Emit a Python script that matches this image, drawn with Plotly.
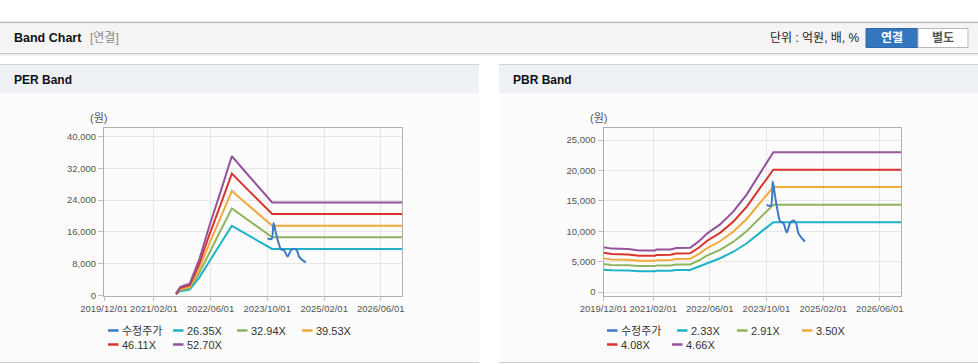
import plotly.graph_objects as go

W, H = 978, 364

# ---------------- data ----------------
tick_dates = ["2019-12-01", "2021-02-01", "2022-06-01", "2023-10-01", "2025-02-01", "2026-06-01"]
tick_labels = ["2019/12/01", "2021/02/01", "2022/06/01", "2023/10/01", "2025/02/01", "2026/06/01"]

price_dates = ["2023-10-04", "2023-11-08", "2023-11-25", "2023-12-15", "2024-01-12", "2024-01-27",
               "2024-02-24", "2024-03-24", "2024-04-22", "2024-05-20", "2024-06-12", "2024-07-02",
               "2024-07-31", "2024-08-28"]
price = [14360, 14200, 18200, 15730, 12720, 11620, 11350, 9800, 11350, 11780, 11350, 9700, 8880, 8320]

per_dates = ["2021-08-10", "2021-09-15", "2021-10-20", "2021-12-05", "2022-02-28", "2022-05-25",
             "2022-08-18", "2022-12-02", "2023-03-01", "2023-06-15", "2023-10-15", "2023-11-13",
             "2026-12-01"]
per_26_35 = [237, 1054, 1265, 1476, 4638, 8827, 12622, 17510, 15994, 14229, 12174, 11699, 11699]
per_32_94 = [296, 1318, 1581, 1845, 5797, 11035, 15778, 21889, 19995, 17788, 15218, 14625, 14625]
per_39_53 = [356, 1581, 1897, 2214, 6957, 13243, 18935, 26268, 23995, 21346, 18263, 17551, 17551]
per_46_11 = [415, 1844, 2213, 2582, 8115, 15447, 22087, 30640, 27989, 24899, 21303, 20473, 20473]
per_52_70 = [474, 2108, 2530, 2951, 9275, 17655, 25243, 35019, 31989, 28458, 24347, 23399, 23399]
per_names = ["수정주가", "26.35X", "32.94X", "39.53X", "46.11X", "52.70X"]

pbr_dates = ["2019-12-01", "2020-02-10", "2020-07-01", "2020-10-01", "2021-02-15", "2021-03-01",
             "2021-07-01", "2021-08-15", "2021-12-15", "2022-03-01", "2022-05-07", "2022-08-29",
             "2022-12-22", "2023-04-16", "2023-08-08", "2023-11-30", "2026-12-01"]
pbr_2_33 = [3693, 3577, 3542, 3425, 3425, 3495, 3507, 3623, 3646, 4194, 4800, 5569, 6641, 8039, 9786, 11501, 11501]
pbr_2_91 = [4612, 4467, 4423, 4278, 4278, 4365, 4380, 4525, 4554, 5238, 5995, 6955, 8294, 10040, 12222, 14364, 14364]
pbr_3_50 = [5548, 5373, 5320, 5145, 5145, 5250, 5268, 5443, 5478, 6300, 7210, 8365, 9975, 12075, 14700, 17276, 17276]
pbr_4_08 = [6467, 6263, 6202, 5998, 5998, 6120, 6140, 6344, 6385, 7344, 8405, 9751, 11628, 14076, 17136, 20139, 20139]
pbr_4_66 = [7386, 7153, 7083, 6850, 6850, 6990, 7013, 7246, 7293, 8388, 9600, 11137, 13281, 16077, 19572, 23002, 23002]
pbr_names = ["수정주가", "2.33X", "2.91X", "3.50X", "4.08X", "4.66X"]

per_ticks = [0, 8000, 16000, 24000, 32000, 40000]
pbr_ticks = [0, 5000, 10000, 15000, 20000, 25000]

# ---------------- styles ----------------
COLORS = ["#3d79c6", "#1db2c8", "#8fb45e", "#f2a93c", "#d8342c", "#94529d"]
FONT = "Liberation Sans, Arial, Noto Sans CJK KR, sans-serif"
KFONT = "Liberation Sans, Arial, Noto Sans CJK KR, sans-serif"


def px(x):
    return x / W


def py(y):
    return 1 - y / H


fig = go.Figure()

per_series = [per_26_35, per_32_94, per_39_53, per_46_11, per_52_70]
pbr_series = [pbr_2_33, pbr_2_91, pbr_3_50, pbr_4_08, pbr_4_66]

for i, s in enumerate(per_series):
    fig.add_trace(go.Scatter(x=per_dates, y=s, mode="lines", name=per_names[i + 1],
                             line=dict(color=COLORS[i + 1], width=2), xaxis="x", yaxis="y",
                             showlegend=False, hoverinfo="skip"))
fig.add_trace(go.Scatter(x=price_dates, y=price, mode="lines", name=per_names[0],
                         line=dict(color=COLORS[0], width=2, shape="spline", smoothing=0.8),
                         xaxis="x", yaxis="y", showlegend=False, hoverinfo="skip"))

for i, s in enumerate(pbr_series):
    fig.add_trace(go.Scatter(x=pbr_dates, y=s, mode="lines", name=pbr_names[i + 1],
                             line=dict(color=COLORS[i + 1], width=2), xaxis="x2", yaxis="y2",
                             showlegend=False, hoverinfo="skip"))
fig.add_trace(go.Scatter(x=price_dates, y=price, mode="lines", name=pbr_names[0],
                         line=dict(color=COLORS[0], width=2, shape="spline", smoothing=0.8),
                         xaxis="x2", yaxis="y2", showlegend=False, hoverinfo="skip"))

ydom = [py(295.5), py(128)]
xax = dict(type="date", range=["2019-12-01", "2026-12-01"], tickvals=tick_dates, ticktext=tick_labels,
           showgrid=True, gridcolor="#e6e6e6", gridwidth=1, showline=True, linecolor="#b0b0b0",
           linewidth=1, mirror=True, ticks="outside", ticklen=4, tickcolor="#c0c0c0", tickangle=0,
           tickfont=dict(family=FONT, size=9.5, color="#555555"), zeroline=False, fixedrange=True,
           automargin=False)
yax = dict(showgrid=True, gridcolor="#e6e6e6", gridwidth=1, showline=True, linecolor="#b0b0b0",
           linewidth=1, mirror=True, ticks="outside", ticklen=5, tickcolor="#c0c0c0",
           tickformat=",d", tickfont=dict(family=FONT, size=9.5, color="#555555"),
           zeroline=False, fixedrange=True, domain=ydom, automargin=False)

fig.update_layout(
    width=W, height=H, autosize=False,
    margin=dict(l=0, r=0, t=0, b=0, pad=0),
    paper_bgcolor="white", plot_bgcolor="white",
    showlegend=False,
    xaxis=dict(xax, domain=[px(104), px(402)], anchor="y"),
    yaxis=dict(yax, range=[0, 42100], tickvals=per_ticks, anchor="x"),
    xaxis2=dict(xax, domain=[px(603.5), px(901)], anchor="y2"),
    yaxis2=dict(yax, range=[-560, 27000], tickvals=pbr_ticks, anchor="x2"),
)

shapes = []
annots = []


def rect(x0, y0, x1, y1, fill, line=None, lw=0, layer="below"):
    shapes.append(dict(type="rect", xref="paper", yref="paper", x0=px(x0), x1=px(x1), y0=py(y1), y1=py(y0),
                       fillcolor=fill, line=dict(color=line or fill, width=lw), layer=layer))


def hline(x0, x1, y, color, w=1):
    shapes.append(dict(type="line", xref="paper", yref="paper", x0=px(x0), x1=px(x1), y0=py(y), y1=py(y),
                       line=dict(color=color, width=w), layer="below"))


def text(x, y, s, size=12, color="#222", bold=False, anchor="left"):
    if bold:
        s = "<b>" + s + "</b>"
    annots.append(dict(xref="paper", yref="paper", x=px(x), y=py(y), text=s, showarrow=False,
                       xanchor=anchor, yanchor="middle", font=dict(family=KFONT, size=size, color=color)))


# top header
hline(0, W, 22.5, "#b4b4b4", 1.5)
rect(0, 23, W, 53, "#f4f4f4")
hline(0, W, 53.5, "#c4c4c4", 1.2)
hline(0, W, 55, "#ececec", 1.5)
text(12, 38.5, "Band Chart", 12.5, "#111111", bold=True)
text(88, 38.5, "[연결]", 12, "#8a8a8a")
text(768, 38.5, "단위 : 억원, 배, %", 12, "#222222")
rect(866, 28.5, 918, 47.5, "#3577bd", "#2e68a8", 1, layer="above")
rect(918, 28.5, 968, 47.5, "#ffffff", "#b8b8b8", 1, layer="above")
text(892, 38.5, "연결", 12, "#ffffff", bold=True, anchor="center")
text(943, 38.5, "별도", 12, "#555555", bold=True, anchor="center")

# panels
for (x0, x1, title) in [(0, 479, "PER Band"), (499, W, "PBR Band")]:
    rect(x0, 93, x1, 362, "#fcfcfc")
    rect(x0, 64, x1, 93, "#eef2f7")
    hline(x0, x1, 64.5, "#d2d2d2", 1.2)
    hline(x0, x1, 362.5, "#cfcfcf", 1.2)
    text(x0 + 12, 80, title, 12, "#111111", bold=True)

text(98, 118, "(원)", 11, "#555555", anchor="center")
text(598, 118, "(원)", 11, "#555555", anchor="center")

# custom legends
legend_pos_left = [(108, 330.5), (173, 330.5), (237, 330.5), (302, 330.5), (108, 344.5), (173, 344.5)]
legend_pos_right = [(607, 330.5), (677, 330.5), (737, 330.5), (802, 330.5), (607, 344.5), (672, 344.5)]
for names, pos in [(per_names, legend_pos_left), (pbr_names, legend_pos_right)]:
    for i, (nm, (lx, ly)) in enumerate(zip(names, pos)):
        shapes.append(dict(type="line", xref="paper", yref="paper", x0=px(lx), x1=px(lx + 10.5),
                           y0=py(ly), y1=py(ly), line=dict(color=COLORS[i], width=2.5), layer="above"))
        text(lx + 12, ly, nm, 11, "#333333")

fig.update_layout(shapes=shapes, annotations=annots)
fig.write_html("out.html", config={"displayModeBar": False},
               post_script="document.body.style.margin='0';document.body.style.padding='0';")
